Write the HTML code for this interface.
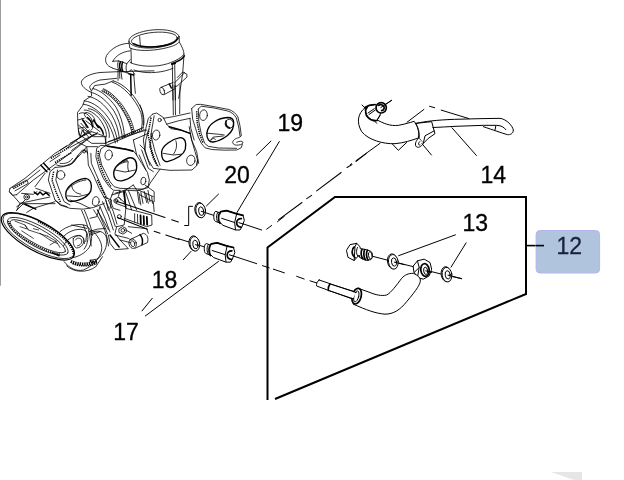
<!DOCTYPE html>
<html><head><meta charset="utf-8">
<style>
html,body{margin:0;padding:0;background:#fff;}
body{width:624px;height:480px;overflow:hidden;position:relative;font-family:"Liberation Sans",sans-serif;}
svg{position:absolute;left:0;top:0;will-change:transform;}
.t{font-family:"Liberation Sans",sans-serif;font-size:23px;fill:#000;stroke:#000;stroke-width:0.3;}
.l{stroke:#000;stroke-width:1;fill:none;stroke-linecap:butt;}
.k *{stroke:#000;stroke-width:0.8;fill:none;stroke-linejoin:round;stroke-linecap:round;vector-effect:non-scaling-stroke;}
.k .b{stroke-width:1.5}
.k .w{fill:#fff}
.k .c{stroke-width:1.05}
#tileH *,#tileJ *,#tileL *{stroke-width:1}
#tileH .b,#tileJ .b,#tileL .b{stroke-width:1.7}
.k [stroke-dasharray]{stroke-linecap:butt}
.w{stroke:#000;stroke-width:1.2;fill:#fff;stroke-linejoin:round;stroke-linecap:round;}
.f{stroke:#000;stroke-width:2;fill:none;}
</style></head>
<body>
<svg width="624" height="480" viewBox="0 0 624 480">
<rect width="624" height="480" fill="#fff"/>
<!-- left edge grey line -->
<rect x="0" y="0" width="1" height="285.7" fill="#9e9e9e"/>
<!-- bottom-right watermark -->
<polygon points="551,472 582,472 582,480 574,480" fill="#e6e6e6"/>


<!-- ENGINE -->
<g id="tileA" class="k" transform="translate(96,20) scale(0.1666667)">
<ellipse cx="348" cy="113" rx="151" ry="54" transform="rotate(-5 348 113)"/>
<ellipse cx="350" cy="117" rx="138" ry="43" transform="rotate(-5 350 117)"/>
<path class="b" d="M225 142 C 270 165 350 168 420 152 C 460 142 482 128 488 112"/>
<path d="M262 100 L266 152"/>
<path d="M197 128 L203 168 C 250 188 330 186 400 172 C 450 162 490 148 500 130 L499 105"/>
<path d="M210 172 L212 258"/>
<path d="M500 132 C 515 160 527 180 528 205"/>
<path d="M205 255 C 260 282 360 285 430 262 C 480 245 515 225 528 205"/>
<path class="b" d="M455 262 C 490 250 520 232 530 215"/>
<path d="M228 300 C 290 325 380 318 440 298 L 462 290"/>
<path d="M528 212 L520 320 L 508 400 L 496 470"/>
<!-- tileA part2 -->
<path d="M198 140 C 150 140 95 165 64 212 C 48 245 62 278 98 287"/>
<path d="M205 185 C 160 190 118 212 101 248"/>
<path d="M100 248 L135 245 L185 262 L205 238"/>
<path d="M100 290 L137 300 L187 318 L212 298 L232 325"/>
<path d="M135 245 C 127 260 128 285 137 300"/>
<path class="b" d="M160 252 C 152 268 153 295 162 310"/>
<path class="b" d="M147 250 C 140 266 141 290 149 305"/>
<path d="M185 262 C 178 275 178 300 187 318"/>
<path d="M132 300 L132 362 M150 310 L156 355 M141 303 L143 350"/>
<path class="b" d="M208 325 L211 452"/>
<path d="M226 322 L236 440"/>
<path class="b" d="M196 322 L226 330"/>
<path d="M458 268 L462 480 M472 265 L477 480"/>
<path class="b" d="M455 266 L476 259"/>
<ellipse cx="397" cy="426" rx="13" ry="23" transform="rotate(-20 397 426)"/>
<path d="M390 404 L462 375 M408 448 L475 412"/>
<path d="M470 378 L530 318 L545 325 L546 342 L487 396 L470 402"/>
<path d="M488 345 L520 312 L532 316"/>
<path class="b" d="M440 384 L452 408"/>
</g>

<g id="tileB" class="k" transform="translate(50,70) scale(0.1666667)">
<path d="M380 65 C 450 85 520 160 555 250 C 568 300 565 330 558 345"/>
<path d="M372 72 C 440 95 510 170 545 255 C 556 300 555 330 548 350"/>
<path d="M320 112 C 390 142 450 222 485 300 C 500 340 505 360 506 375"/>
<path class="b" stroke-dasharray="1.1 1" d="M315 119 C 383 149 443 229 477 307 C 492 347 497 367 498 381"/>
<path d="M257 111 C 306 122 355 165 396 223 C 420 265 438 320 445 375 L446 405"/>
<path d="M250 135 C 296 146 343 188 384 246 C 408 288 426 340 433 395 L434 412"/><path d="M228 158 C 280 166 330 208 370 270 C 396 313 410 358 416 408"/><path d="M310 125 C 380 155 440 235 472 312 C 486 350 491 370 492 384"/>
<path d="M205 185 C 260 190 320 235 365 310 C 390 360 402 400 405 432"/>
<path d="M200 205 C 255 212 310 255 352 325 C 375 370 388 410 392 438"/>
<path d="M380 65 L 330 85 L 268 93 L 247 128 L 250 155 L 207 183 L 195 215 L 165 255 L 167 330 L 175 390"/>
<path d="M175 262 C 200 245 240 265 255 310 C 262 335 258 350 250 358"/>
<path d="M205 240 C 240 238 290 270 320 330 C 335 360 340 380 338 400"/>
<path d="M230 232 C 270 235 310 270 340 330 C 355 365 358 385 355 405"/>
<path class="b" d="M225 285 C 240 295 250 315 255 340"/>
<path d="M190 290 C 205 300 215 320 218 345"/>
<ellipse cx="238" cy="282" rx="38" ry="17" transform="rotate(38 238 282)"/>
<path d="M186 320 L250 392 M215 305 L300 370 M190 360 L232 402 M168 300 L205 290 M170 350 L200 345"/>
<path class="b" d="M196 300 L228 345 M262 300 L290 345"/>
<path class="b" d="M280 330 C 300 340 315 360 320 385"/>
<path d="M624 5 L410 10 L300 15 C 240 22 195 45 188 72 C 186 95 215 120 243 132"/>
<path d="M400 50 L300 60 C 260 72 238 90 238 105 L 246 122"/>
<path d="M100 470 L235 360 M130 482 L262 386 M60 482 L100 455"/>
<path d="M330 440 L560 345 M338 452 L565 358"/>
<path class="b" stroke-dasharray="1.1 1" d="M440 400 L560 350"/>
<path d="M170 330 L 260 400 L 330 400 L 335 440 M180 390 L 250 440 L 330 440"/>
</g>

<g id="tileC" class="k" transform="translate(140,85) scale(0.1666667)">
<!-- flange 3 outer -->
<path d="M310 141 L337 117 L364 116 L445 130 L533 147 C 556 154 575 170 587 191 L600 245 L608 306 L593 316 C 572 320 556 332 556 345 C 558 358 575 364 593 360 C 610 358 620 350 617 343 C 614 336 600 335 580 343"/>
<path d="M614 357 L607 377 L580 390 L506 391 L431 387 L391 377 L370 353 L350 313 L333 259 L316 205 L310 141"/>
<path d="M350 144 L367 127 L445 138 L526 156 C 548 162 568 178 578 198 L592 252 L600 306"/>
<path class="b" stroke-dasharray="1.3 0.9" d="M340 157 L343 225 L357 292 L377 346"/>
<path d="M350 144 L 353 220 L 367 290 L 388 350 L 410 368 L 470 378 L 580 380"/>
<ellipse cx="381" cy="181" rx="23" ry="32" transform="rotate(8 381 181)"/>
<path style="stroke-width:1.35" d="M401 292 C 403 262 425 235 445 222 C 465 208 500 196 525 195 C 550 195 562 205 562 225 C 564 255 550 282 525 303 C 500 322 470 338 440 342 C 415 345 400 320 401 292 Z"/>
<ellipse cx="536" cy="233" rx="25" ry="27"/>
<path class="b" d="M517 215 C 512 235 520 252 538 258"/>
<path d="M401 289 L478 296 L506 300 M421 333 L438 313 L499 306 M428 330 C 432 318 448 316 452 328"/>
<!-- flange 2 -->
<path d="M75 175 L100 168 L140 195 L160 235 L185 262 L250 272 L300 290 L310 330 L330 400 L345 450 L340 482"/>
<path d="M75 175 L50 200 L35 260 L20 330 L30 400 L60 482"/>
<path class="b" stroke-dasharray="1.3 0.9" d="M66 195 L48 300 L72 400 L100 482"/>
<path d="M85 185 L65 300 L90 400 L120 482"/>
<circle cx="118" cy="210" r="10"/>
<ellipse cx="97" cy="300" rx="22" ry="30" transform="rotate(10 97 300)"/>
<ellipse cx="305" cy="452" rx="25" ry="31" transform="rotate(10 305 452)"/>
<path style="stroke-width:1.35" d="M130 400 C 135 365 190 325 240 316 C 270 315 280 345 272 385 C 262 420 215 445 165 460 C 138 462 128 435 130 400 Z"/>
<path d="M215 335 C 225 360 218 395 200 415 M140 410 L200 420 L250 415"/>
<!-- runners -->
<path d="M140 200 L200 190 L300 168 M160 235 L230 215 L300 200"/>
<path class="b" d="M175 250 L250 272 L300 290"/>
<path d="M295 250 L310 330 L340 400 L352 470"/>
<path d="M300 200 L 305 260 L 325 330"/>
<!-- rod -->
<path d="M197 0 L200 180 M210 0 L213 178 M240 0 L238 172"/>
<path d="M0 120 C 15 150 22 200 20 240"/>
</g>

<g id="tileD" class="k" transform="translate(70,130) scale(0.1666667)">
<!-- flange 1 -->
<path d="M215 95 L260 100 L340 115 L380 125 L400 150 L430 200 L465 255 L476 300 L470 335 L440 355 L370 352 L300 350 L265 340 L240 310 L215 260 L190 210 L176 150 L185 115 Z"/>
<path class="b" d="M225 97 L340 117 L378 127"/>
<path d="M215 95 L185 92 L160 110 L155 160 L175 230 L200 290 L235 340 L262 362 L300 362"/>
<path class="b" stroke-dasharray="1.3 0.9" d="M170 125 L168 165 L188 232 L212 290 L245 338"/>
<ellipse cx="232" cy="150" rx="22" ry="30" transform="rotate(10 232 150)"/>
<ellipse cx="440" cy="306" rx="15" ry="23" transform="rotate(10 440 306)"/>
<path style="stroke-width:1.35" d="M262 260 C 262 225 300 188 350 168 C 385 160 402 185 400 225 C 398 262 365 292 310 305 C 275 308 262 290 262 260 Z"/>
<path d="M270 240 L330 252 L392 240 M300 197 L345 182 M285 215 C 300 200 330 190 350 190 C 345 210 345 230 352 248"/>
<!-- flange 0 -->
<ellipse cx="155" cy="428" rx="20" ry="28" transform="rotate(10 155 428)"/>
<circle cx="85" cy="130" r="8"/>
<path d="M105 135 L110 210 L140 270 L175 350 L200 395 L215 420"/>
<path d="M125 140 L128 200 L155 262 L185 330 L210 385"/>
<path class="b" stroke-dasharray="1.3 0.9" d="M165 300 L195 365 L225 415"/>
<path d="M0 80 L60 45 L130 10 M0 105 L100 50 L160 25 M0 210 L60 150 L100 100 L105 135"/>
<path d="M40 70 L100 100 L165 100 M60 45 L75 0 M130 10 L215 40 L215 95"/>
<path d="M0 420 L60 440 L120 470"/>
<!-- flange 2 left edge -->
<path d="M470 0 L455 60 L450 120 L470 180 L500 230 L540 235 L600 242 L732 240 L760 214 L766 180"/>
<path class="b" stroke-dasharray="1.3 0.9" d="M490 20 L480 100 L500 170 L530 222"/>
<path d="M540 235 L480 320 L470 340"/>
<path d="M380 60 L400 150 M420 90 L450 120 M380 60 L470 20 M230 70 L460 0"/>
<path d="M430 120 L470 230 L500 250 M415 150 L 455 240"/>
<!-- bottom center mech -->
<path d="M270 380 L330 360 L400 365 L470 345"/>
<path d="M405 375 L415 440 M425 372 L438 440 M445 368 L460 435 M468 362 L480 430 M490 400 L495 440 M415 390 L425 450 M455 380 L470 440"/>
<path d="M260 370 L240 420 L260 470 L300 482 M300 362 L290 400 L330 440 M330 362 L370 480 M350 362 L400 480"/>
<path d="M200 400 L250 420 L240 470 M215 420 L230 482"/>
<path d="M270 420 C 280 400 300 400 305 420 M275 440 L330 460"/>
</g>

<g id="tileE" class="k" transform="translate(0,130) scale(0.1666667)">
<path d="M60 350 L150 290 L240 215 L330 140 L420 85 L480 45 L545 5 M100 388 L200 300 L290 235 L380 170 L470 100 L520 60 L585 15"/>
<path d="M150 312 L240 240 M300 190 L360 150"/>
<path class="b" d="M245 212 L282 250 M262 200 L298 238"/>
<path class="b" stroke-dasharray="1.3 0.9" d="M305 170 L420 100 M330 195 L430 135"/>
<path d="M340 210 C 380 225 430 215 450 185 L470 150 M360 200 C 390 205 420 195 435 170"/>
<path d="M60 350 L55 372 L75 392 L100 388 M75 345 L160 300 L170 320 L90 365"/>
<path class="b" stroke-dasharray="1.3 0.9" d="M80 352 L150 312"/>
<path d="M60 372 L120 440 L100 482 M130 380 L200 386 L222 370 M120 440 L300 402 M100 482 L140 442 L330 442"/>
<circle cx="160" cy="402" r="17"/><circle cx="160" cy="402" r="7"/>
<path class="b" d="M205 372 L225 388 L240 372 L258 390 L275 376 L295 392"/>
<path d="M210 340 L240 300 L270 260 M215 350 L300 380"/>
<!-- flange 0 -->
<path d="M330 225 L380 220 L430 200 L470 150 L495 120 L515 120 L525 140"/>
<path d="M330 225 L300 250 L290 300 L310 360 L330 420 L370 450 L402 460"/>
<path class="b" stroke-dasharray="1.3 0.9" d="M322 250 L312 300 L335 370 L362 432"/>
<path d="M345 240 L335 300 L358 365 L385 430 L420 450"/>
<ellipse cx="365" cy="270" rx="24" ry="26"/>
<path style="stroke-width:1.35" d="M395 380 C 398 340 450 300 510 290 C 545 292 555 330 545 365 C 525 405 470 428 425 430 C 400 425 393 405 395 380 Z"/>
<path d="M430 330 C 432 360 450 380 485 385 M405 395 L470 400 L530 385 M405 360 C 425 330 470 305 515 300"/>
<path d="M470 0 L482 45 M500 0 L508 30"/>
</g>

<g id="tileF" class="k" transform="translate(0,200) scale(0.1666667)">
<!-- volute behind -->
<path d="M360 190 C 400 155 470 135 520 155 C 555 180 558 240 535 285 C 510 320 470 340 440 345"/>
<path d="M385 215 C 420 180 480 165 515 185 C 535 215 530 260 505 295"/>
<path d="M550 180 C 590 215 615 260 610 300 C 600 350 560 395 500 420 C 460 430 415 410 385 370"/>
<path d="M440 232 C 455 208 490 208 502 232 C 508 260 490 285 460 288 C 445 285 436 260 440 232 Z"/>
<path d="M452 240 C 462 225 482 225 490 240 C 494 258 482 272 465 275"/>
<path d="M500 150 L520 200 L515 250 M430 150 L520 170"/>
<path style="stroke-width:3.2" stroke-dasharray="1.4 0.9" d="M425 368 C 470 390 530 390 585 366"/>
<path class="b" stroke-dasharray="1.3 0.9" d="M435 382 C 480 400 535 398 580 382"/>
<path d="M400 395 C 440 435 520 440 575 400 L615 340"/>
<!-- big ellipse -->
<g transform="rotate(29 227 218)">
<ellipse class="w" cx="227" cy="218" rx="246" ry="88"/>
<ellipse cx="230" cy="214" rx="240" ry="82"/>
<path style="stroke-width:2" stroke-dasharray="1.2 1" d="M185 139 A239 81 0 0 1 464 207"/>
<ellipse cx="227" cy="218" rx="206" ry="62"/>
<path style="stroke-width:1.8" stroke-dasharray="1.2 1" d="M30 223 A198 54 0 0 0 398 246"/>
<ellipse cx="227" cy="218" rx="188" ry="46"/>
<path class="b" d="M350 262 L395 258"/>
</g>
<path style="stroke-width:0.7" d="M90 127 L150 150 L172 180 M120 160 L165 175 L150 150 M200 172 L232 180 M285 217 L337 247 L360 285 M300 240 L345 262 M172 180 L285 217 M130 185 L200 230 M240 200 L300 240 M337 247 L300 270"/>
<!-- upper right -->
<path d="M330 0 L360 30 L420 50 L500 55 L560 45 L626 20"/>
<path d="M100 40 L130 20 L200 50 L160 75 M130 20 L150 0 M200 50 L330 10"/>
<path class="b" d="M150 25 L215 55"/>
</g>

<g id="tileG" class="k" transform="translate(90,185) scale(0.1666667)">
<!-- ribs -->
<path d="M75 100 L110 180 L140 270 M95 95 L125 170 L152 250 M60 130 L90 200 L120 282 M45 150 L80 230 L105 292 M110 90 L140 160 L162 235"/>
<circle cx="155" cy="95" r="12"/><circle cx="176" cy="190" r="12"/>
<path d="M130 60 L200 40 L215 140 L205 240 L160 250 M200 40 L260 0 M215 140 L370 180 L372 240 L340 250 L205 200"/>
<path style="stroke-width:1.8" d="M303 182 L305 232 M322 187 L324 236 M341 192 L343 238"/><path d="M268 172 L268 222 M285 176 L286 226"/>
<path d="M260 0 L300 60 L380 100 L385 160 M290 30 L380 70 M330 0 L385 40 L385 100"/>
<path class="b" d="M205 40 L215 135"/>
<!-- nut + banjo -->
<path d="M175 262 L195 250 L216 260 L218 282 L198 295 L176 285 Z"/><circle cx="197" cy="272" r="11"/>
<ellipse cx="256" cy="352" rx="22" ry="29" transform="rotate(-15 256 352)"/>
<ellipse cx="256" cy="352" rx="12" ry="18" transform="rotate(-15 256 352)"/>
<path d="M245 325 L320 290 C 345 295 352 320 345 345 L270 380"/>
<path class="b" d="M300 298 C 312 310 318 335 312 358"/>
<path d="M160 250 L150 290 L180 330 L230 382 L150 388 L120 350 L110 300"/>
<path class="b" d="M120 300 L150 340 L175 372"/>
<path d="M150 300 L230 320 L245 330 M180 330 L240 345"/>
<path d="M230 250 L340 262 L350 290 M216 270 L250 290"/>
<path class="c" d="M150 95 L450 195 M490 208 L530 222 M165 195 L345 265 M385 278 L420 290 M455 300 L535 327"/>
<!-- volute left -->
<path d="M0 290 C 40 265 90 275 100 320 C 105 370 85 420 40 445 L0 452"/>
<path d="M0 300 L60 280 M0 200 L40 190 L60 130"/>
<path style="stroke-width:2.6" stroke-dasharray="1.3 0.9" d="M0 455 L40 470"/>
</g>

<g id="tileH" class="k" transform="translate(180,195) scale(0.1666667)">
<!-- center lines -->
<path class="c" d="M28 183 L52 183 L52 68 L75 68"/>
<path class="c" d="M128 98 L230 131 M375 172 L490 210 M520 205 L550 183 M585 160 L626 128"/>
<path class="c" d="M-10 262 L180 322 M320 366 L460 412 M495 424 L535 437 M560 445 L626 467"/>
<g><ellipse class="w" cx="119" cy="90" rx="30" ry="45" transform="rotate(-8 119 90)"/>
<ellipse class="w" cx="124" cy="93" rx="29" ry="44" transform="rotate(-8 124 93)"/>
<ellipse class="w" cx="127" cy="97" rx="15" ry="26" transform="rotate(-8 127 97)"/><path class="w" d="M245 100 L280 94 L336 112 L378 122 L386 152 L371 192 L360 210 L333 210 L258 182 L238 162 L236 130 Z"/>
<path class="b" d="M245 100 L280 94 L336 112 L378 122"/>
<path d="M250 140 L328 165 L340 113 M328 165 L333 208"/>
<path class="w" d="M240 108 L215 98 C 200 100 198 150 212 158 L240 168"/>
<path d="M228 103 C 216 115 216 150 228 163"/><path class="b" d="M240 105 C 228 120 228 155 240 170"/>
<path class="b" d="M368 142 C 352 140 340 152 340 167 C 340 182 350 192 366 193"/>
<path class="c" d="M353 166 L380 174"/></g>
<g transform="translate(-35,200)"><ellipse class="w" cx="119" cy="90" rx="30" ry="45" transform="rotate(-8 119 90)"/>
<ellipse class="w" cx="124" cy="93" rx="29" ry="44" transform="rotate(-8 124 93)"/>
<ellipse class="w" cx="127" cy="97" rx="15" ry="26" transform="rotate(-8 127 97)"/></g>
<g transform="translate(-57,193)"><path class="w" d="M245 100 L280 94 L336 112 L378 122 L386 152 L371 192 L360 210 L333 210 L258 182 L238 162 L236 130 Z"/>
<path class="b" d="M245 100 L280 94 L336 112 L378 122"/>
<path d="M250 140 L328 165 L340 113 M328 165 L333 208"/>
<path class="w" d="M240 108 L215 98 C 200 100 198 150 212 158 L240 168"/>
<path d="M228 103 C 216 115 216 150 228 163"/><path class="b" d="M240 105 C 228 120 228 155 240 170"/>
<path class="b" d="M368 142 C 352 140 340 152 340 167 C 340 182 350 192 366 193"/>
<path class="c" d="M353 166 L380 174"/></g>
<path class="c" d="M128 98 L150 105 M93 298 L115 305"/>
</g>

<g id="tileI" class="k" transform="translate(262,140) scale(0.1666667)">
<path class="c" d="M100 478 L240 375 M268 352 L298 332 M328 305 L475 195 M510 165 L540 148 M565 128 L626 80"/>
</g>
<g id="tileJ" class="k" transform="translate(350,90) scale(0.1666667)">
<path class="c" d="M0 450 L10 442 M35 425 L180 320 M185 105 L250 62"/>
<path class="w" d="M88 108 C 50 140 35 190 70 250 C 110 300 200 325 270 322 C 320 318 370 302 410 288 C 418 255 405 215 385 188 C 360 195 330 205 290 212 C 240 218 200 200 160 178 Z"/>
<path d="M255 325 L290 362 L340 315"/>
<path class="w" d="M395 200 L490 190 L505 245 L510 262 L470 290 L440 320 L415 290 C 418 255 410 225 395 200 Z"/>
<path d="M505 245 L450 275 L440 318"/>
<path class="w" d="M410 290 C 395 305 385 330 400 342 C 415 348 435 335 440 318"/>
<path d="M418 310 C 408 320 408 332 420 330"/>
<path d="M400 200 C 450 188 520 180 626 176 L780 172 L900 170 C 940 175 975 215 980 240 C 980 262 960 270 945 268 C 910 258 860 240 800 220"/>
<path d="M497 225 L560 222 L630 218 L800 212 L880 212 C 910 213 925 225 935 238 M875 215 L870 240"/>
<!-- nut -->
<path class="w" d="M92 104 L117 92 L150 87 L190 110 L180 152 L162 182 L142 185 C 115 175 95 150 92 127 Z"/>
<path class="b" d="M104 102 C 88 120 92 150 108 165 C 120 178 140 186 162 183 M92 104 L117 92 L150 87"/>
<path d="M114 147 L152 120 M108 138 L146 112 M180 152 L162 182"/>
<circle class="w b" cx="187" cy="107" r="31"/>
<path class="b" d="M172 92 C 182 84 198 88 204 100 C 208 112 200 122 190 124"/>
<path d="M185 105 L250 62"/>
<path d="M72 90 L95 112 M150 188 L160 200"/>
</g>

<g id="tileL" class="k" transform="translate(300,230) scale(0.1666667)">
<!-- center lines -->
<path class="c" d="M-20 278 L25 294 M60 305 L105 319"/>
<path class="c" d="M425 155 L560 190 L700 225 M770 245 L850 265 L970 292"/>
<!-- banjo bolt -->
<path class="w" d="M280 120 L300 88 L340 80 L360 100 L362 112 L400 118 L425 128 C 438 140 438 165 425 178 L395 182 L358 165 L355 150 L325 183 L290 165 Z"/>
<path class="b" d="M325 102 C 308 115 308 150 330 166"/>
<path d="M340 80 L330 100 L325 183 M345 105 C 335 125 338 150 350 160"/>
<path class="b" d="M372 116 C 364 130 366 160 376 172 M388 118 C 380 134 382 164 392 178 M404 122 C 396 136 398 166 408 180"/>
<ellipse class="w" cx="422" cy="152" rx="11" ry="22" transform="rotate(-8 422 152)"/>
<ellipse class="w" cx="555" cy="188" rx="30" ry="45" transform="rotate(-8 555 188)"/>
<ellipse class="w" cx="560" cy="191" rx="29" ry="44" transform="rotate(-8 560 191)"/>
<ellipse class="w" cx="564" cy="192" rx="15" ry="25" transform="rotate(-8 564 192)"/>
<g transform="translate(322,77)"><ellipse class="w" cx="555" cy="188" rx="30" ry="45" transform="rotate(-8 555 188)"/>
<ellipse class="w" cx="560" cy="191" rx="29" ry="44" transform="rotate(-8 560 191)"/>
<ellipse class="w" cx="564" cy="192" rx="15" ry="25" transform="rotate(-8 564 192)"/></g>
<path class="c" d="M566 193 L626 208 M888 271 L970 292"/>
<!-- banjo fitting -->
<path class="w" d="M680 215 L705 185 L745 175 L780 195 L790 235 L775 275 L740 295 L705 285 L685 255 Z"/>
<path d="M705 185 L715 225 L705 285 M715 225 L685 255"/>
<ellipse class="w b" cx="750" cy="240" rx="25" ry="38" transform="rotate(-8 750 240)"/>
<ellipse class="w" cx="754" cy="245" rx="12" ry="22" transform="rotate(-8 754 245)"/>
<path d="M754 245 L790 254"/>
<!-- hose -->
<path class="w" d="M350 350 L420 375 C 450 388 490 398 520 390 C 545 378 580 330 610 290 C 630 268 650 260 680 260 C 705 270 720 285 722 300 C 725 320 700 360 640 430 C 600 480 560 505 510 505 C 450 500 400 480 320 445 Z"/>
<!-- pin -->
<path class="w" d="M115 300 L180 322 L185 325 L345 376 L322 416 L170 362 L165 360 L100 336 C 96 325 102 308 115 300 Z"/>
<path class="b" d="M180 323 C 172 335 168 350 170 362"/>
<!-- hose end ring -->
<ellipse class="w b" cx="340" cy="397" rx="27" ry="48" transform="rotate(15 340 397)"/>
<ellipse class="w" cx="338" cy="398" rx="14" ry="34" transform="rotate(15 338 398)"/>
<path class="w" style="stroke:none" d="M186 328 L335 378 L318 410 L175 360 Z"/>
<path d="M185 325 L338 375 M170 362 L322 414"/>
</g>

<g id="tileP" class="k" transform="translate(56,186) scale(0.125)">
<path d="M205 195 C 230 250 260 330 270 400 L 282 480 M300 190 C 340 250 390 330 410 420 L 420 480 M265 365 L330 345 L392 340"/>
<path d="M228 195 C 252 250 282 325 292 395 M330 190 L380 280 L420 350"/>
<path d="M60 480 C 80 430 130 400 180 395 C 210 395 225 420 228 460"/>
</g>

<!-- FRAME -->
<g id="frame">
<path class="f" d="M267.5 400 V247.5 L335 197 H526 V294 L275 399"/>
<line x1="526" y1="245.6" x2="544" y2="245.6" stroke="#000" stroke-width="1.6"/>
</g>

<!-- BOX 12 -->
<g id="box12">
<rect x="536.1" y="230.5" width="63.5" height="42.5" rx="4" ry="4" fill="#b0c4de" stroke="#b4b4f0" stroke-width="1"/>
<line x1="536" y1="245.6" x2="544" y2="245.6" stroke="#000" stroke-width="1.6"/>
<text x="556.5" y="254" class="t" style="fill:#16223c;stroke:#16223c">12</text>
</g>

<!-- LABELS -->
<g id="labels">
<text x="277.5" y="130.5" class="t">19</text>
<text x="224.3" y="183.3" class="t">20</text>
<text x="151.8" y="288" class="t">18</text>
<text x="113.3" y="339.5" class="t">17</text>
<text x="480.5" y="182.5" class="t">14</text>
<text x="462.5" y="231.3" class="t">13</text>
</g>

<!-- LEADERS -->
<g id="leaders" class="l">
<path d="M279.5 141.2 L236.2 213.8"/>
<path d="M271.2 140.8 L256.2 155.5"/>
<path d="M218.8 193.8 L206.2 206.2"/>
<path d="M191.2 251.2 L183 260"/>
<path d="M218.8 261.2 L145 316.2"/>
<path d="M152.5 298 L141.8 311.2"/>
<path d="M476.7 155.8 L451.7 127.5"/>
<path d="M431.7 155.3 L421.7 143.3"/>
<path d="M424.2 109.2 L406.7 122.5"/>
<path d="M429.2 106.2 L435 107.8"/>
<path d="M440.8 110 L469.2 118.7"/>
<path d="M455.8 234.7 L398.3 255.8"/>
<path d="M466.3 242.5 L450.8 267.5"/>
</g>
</svg>
</body></html>
